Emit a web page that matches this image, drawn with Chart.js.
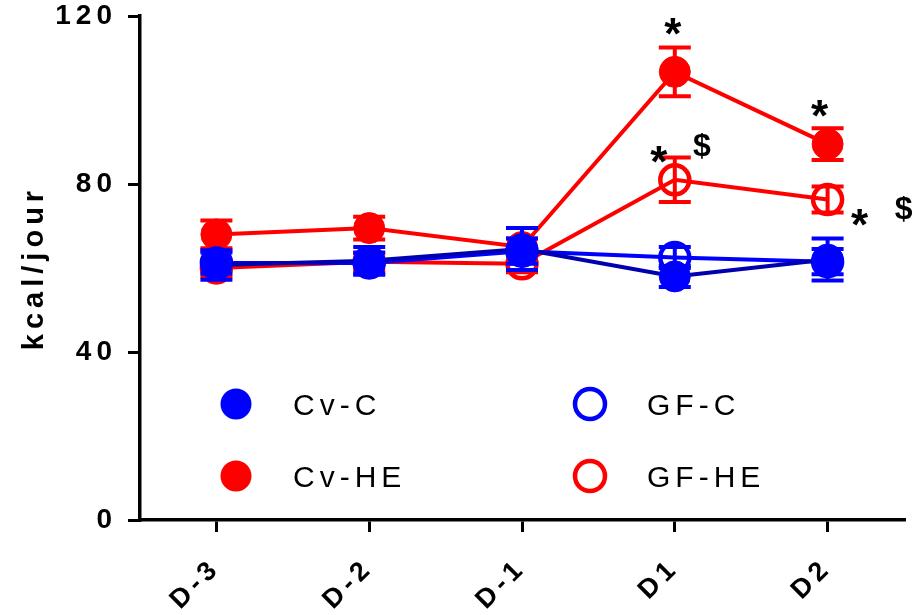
<!DOCTYPE html>
<html lang="fr">
<head>
    <meta charset="UTF-8">
    <title>kcal/jour</title>
    <script src="https://cdn.jsdelivr.net/npm/chart.js"></script>
    <style>
        html, body { margin: 0; padding: 0; background: #fff; }
        #wrap { width: 912px; height: 615px; }
    </style>
</head>
<body>
    <div id="wrap"><canvas id="chart" width="912" height="615"></canvas></div>

    <script>
        // Data (mean and SEM, kcal/jour)
        const days = ['D-3', 'D-2', 'D-1', 'D1', 'D2'];
        const yTicks = [0, 40, 80, 120];

        const cvC = [60.7, 61.7, 64.5, 58.0, 62.0];
        const cvCsem = [3.5, 3.3, 5.0, 2.5, 5.0];
        const gfC = [61.2, 61.2, 64.0, 62.5, 61.5];
        const gfCsem = [2.5, 2.5, 3.0, 2.5, 3.0];
        const cvHE = [68.0, 69.5, 65.0, 106.7, 89.5];
        const cvHEsem = [3.3, 2.7, 2.0, 5.8, 3.8];
        const gfHE = [60.0, 61.5, 61.0, 81.0, 76.3];
        const gfHEsem = [2.0, 2.0, 2.0, 5.3, 3.1];

        // significance marks: day index, value, text, horizontal shift (px)
        const markText = ['*', '*', '*', '$', '*', '$'];
        const markDay = [3, 4, 3, 3, 4, 4];
        const markValue = [118, 98.5, 87.5, 89.3, 72.6, 74.5];
        const markShift = [-2, -8, -16, 27, 32, 76];

        const legendLabels = ['Cv-C', 'GF-C', 'Cv-HE', 'GF-HE'];

        const RED = '#ff0000';
        const BLUE = '#0000ff';
        const FONT = 'Liberation Sans';

        function series(label, data, sem, lineColor, markColor, open) {
            return {
                label: label,
                data: data,
                sem: sem,
                markColor: markColor,
                open: open,
                borderColor: lineColor,
                borderWidth: 4,
                tension: 0,
                fill: false,
                pointRadius: open ? 14.5 : 15.5,
                pointBorderWidth: open ? 4.5 : 1,
                pointBorderColor: markColor,
                pointBackgroundColor: open ? 'rgba(0,0,0,0)' : markColor,
                clip: false
            };
        }

        // error bars, drawn right after each dataset so the layering follows it
        const errorBars = {
            id: 'errorBars',
            afterDatasetDraw(chart, args) {
                const ds = chart.data.datasets[args.index];
                const y = chart.scales.y;
                const ctx = chart.ctx;
                ctx.save();
                ctx.strokeStyle = ds.markColor;
                ctx.lineWidth = 4;
                args.meta.data.forEach((pt, i) => {
                    const top = y.getPixelForValue(ds.data[i] + ds.sem[i]);
                    const bot = y.getPixelForValue(ds.data[i] - ds.sem[i]);
                    ctx.beginPath();
                    ctx.moveTo(pt.x, top); ctx.lineTo(pt.x, bot);
                    ctx.moveTo(pt.x - 16, top); ctx.lineTo(pt.x + 16, top);
                    ctx.moveTo(pt.x - 16, bot); ctx.lineTo(pt.x + 16, bot);
                    ctx.stroke();
                });
                ctx.restore();
            }
        };

        const spacing = {
            id: 'spacing',
            beforeDraw(chart) { chart.ctx.letterSpacing = '5px'; }
        };

        // legend in the plot plus the * / $ marks
        const extras = {
            id: 'extras',
            afterDraw(chart) {
                const ctx = chart.ctx;
                const area = chart.chartArea;
                const xs = chart.scales.x, ys = chart.scales.y;
                ctx.save();

                const cols = [area.left + 96, area.left + 450];
                const rows = [404, 476];
                chart.data.datasets.forEach((ds, i) => {
                    const k = legendLabels.indexOf(ds.label);
                    const cx = cols[k % 2], cy = rows[Math.floor(k / 2)];
                    ctx.beginPath();
                    if (ds.open) {
                        ctx.arc(cx, cy, 15, 0, Math.PI * 2);
                        ctx.lineWidth = 4.5;
                        ctx.strokeStyle = ds.markColor;
                        ctx.stroke();
                    } else {
                        ctx.arc(cx, cy, 15.5, 0, Math.PI * 2);
                        ctx.fillStyle = ds.markColor;
                        ctx.fill();
                    }
                    ctx.letterSpacing = '5px';
                    ctx.fillStyle = '#000';
                    ctx.font = '30px ' + FONT;
                    ctx.textAlign = 'left';
                    ctx.textBaseline = 'middle';
                    ctx.fillText(ds.label, cx + 57, cy + 3);
                });

                ctx.letterSpacing = '0px';
                ctx.textAlign = 'center';
                ctx.textBaseline = 'alphabetic';
                ctx.fillStyle = '#000';
                markText.forEach((t, i) => {
                    const x = xs.getPixelForValue(markDay[i]) + markShift[i];
                    const y = ys.getPixelForValue(markValue[i]);
                    const size = t === '*' ? 44 : 32;
                    ctx.font = 'bold ' + size + 'px ' + FONT;
                    const lift = t === '*' ? 0.56 * size : 0.36 * size;
                    ctx.fillText(t, x, y + lift);
                });
                ctx.restore();
            }
        };

        new Chart(document.getElementById('chart'), {
            type: 'line',
            data: {
                labels: days,
                datasets: [
                    series('Cv-C', cvC, cvCsem, '#0000b0', BLUE, false),
                    series('GF-C', gfC, gfCsem, BLUE, BLUE, true),
                    series('Cv-HE', cvHE, cvHEsem, RED, RED, false),
                    series('GF-HE', gfHE, gfHEsem, RED, RED, true)
                ]
            },
            options: {
                responsive: false,
                devicePixelRatio: 1,
                animation: false,
                layout: { autoPadding: false, padding: { top: 16, right: 8, left: 0, bottom: 0 } },
                plugins: { legend: { display: false }, tooltip: { enabled: false } },
                scales: {
                    x: {
                        offset: true,
                        afterFit: s => { s.height = 95; s.paddingLeft = 0; s.paddingRight = 0; },
                        border: { display: true, color: '#000', width: 3.5 },
                        grid: { drawOnChartArea: false, drawTicks: true, tickLength: 12, color: '#000', lineWidth: 3, offset: false },
                        ticks: {
                            color: '#000', maxRotation: 45, minRotation: 45, padding: 20,
                            font: { family: FONT, weight: 'bold', size: 27 }
                        }
                    },
                    y: {
                        min: 0, max: 120,
                        afterFit: s => { s.width = 140; s.paddingTop = 0; s.paddingBottom = 0; },
                        afterBuildTicks: s => { s.ticks = yTicks.map(v => ({ value: v })); },
                        border: { display: true, color: '#000', width: 3.5 },
                        grid: { drawOnChartArea: false, drawTicks: true, tickLength: 12, color: '#000', lineWidth: 3 },
                        ticks: {
                            color: '#000', padding: 11,
                            font: { family: FONT, weight: 'bold', size: 28 }
                        },
                        title: {
                            display: true, text: 'kcal/jour', color: '#000',
                            font: { family: FONT, weight: 'bold', size: 29 },
                            padding: { top: 18, bottom: 0 }
                        }
                    }
                }
            },
            plugins: [spacing, errorBars, extras]
        });
    </script>
</body>
</html>
